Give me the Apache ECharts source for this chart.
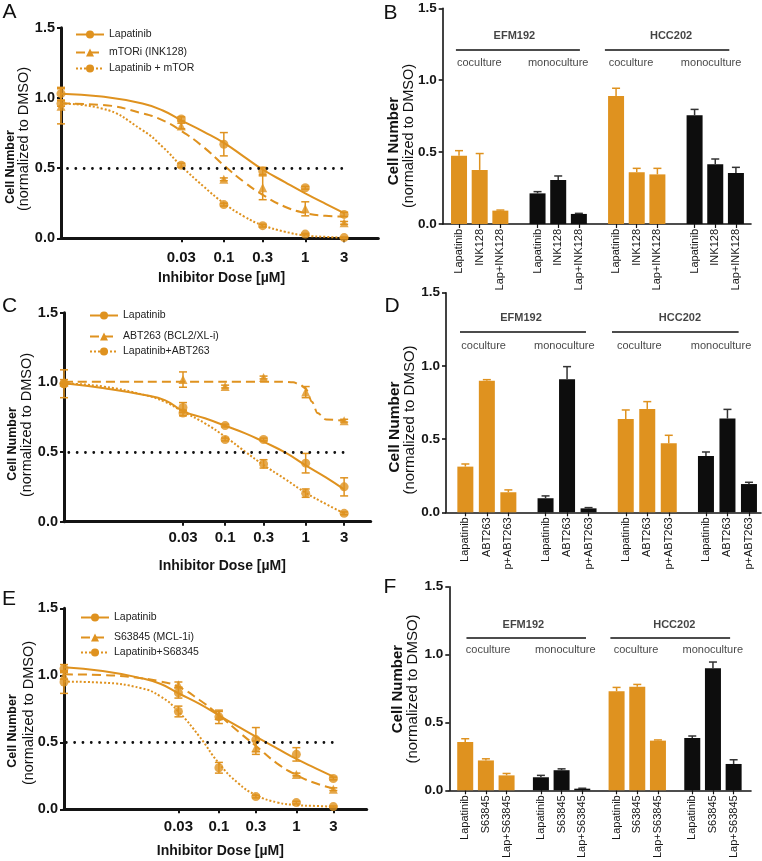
<!DOCTYPE html>
<html><head><meta charset="utf-8">
<script src="https://cdn.jsdelivr.net/npm/echarts@6/dist/echarts.min.js"></script>
<style>html,body{margin:0;padding:0;background:#fff}#c{width:762px;height:861px}</style>
</head><body><div id="c"></div>
<script>
// ================= DATA =================
// Dose–response panels (A, C, E). 0.001 µM = DMSO control, drawn on the y-axis.
const doses = [0.001, 0.03, 0.1, 0.3, 1, 3];
const doseTicks = [0.03, 0.1, 0.3, 1, 3];
const fitDoses = [0.001, 0.00316, 0.01, 0.0178, 0.03, 0.0562, 0.1, 0.178, 0.3, 0.562, 1, 1.78, 3];
const abtFitDoses = [0.001, 0.01, 0.1, 0.5, 0.7, 0.85, 1.0, 1.2, 1.4, 1.8, 3];
const xAxisTitle = 'Inhibitor Dose [µM]';
const yTitle1 = 'Cell Number';
const yTitle2 = '(normalized to DMSO)';
const yTicks = [0, 0.5, 1.0, 1.5];
const halfLine = 0.5;

// Panel A
const aNames = ['Lapatinib', 'mTORi (INK128)', 'Lapatinib + mTOR'];
const aLapMean = [1.03, 0.85, 0.67, 0.48, 0.36, 0.17];
const aLapErr = [0.045, 0.015, 0.083, 0.025, 0.01, 0.015];
const aMtorMean = [0.94, 0.80, 0.42, 0.36, 0.21, 0.11];
const aMtorErr = [0.125, 0.02, 0.01, 0.085, 0.05, 0.01];
const aComboMean = [0.96, 0.52, 0.24, 0.09, 0.03, 0.005];
const aComboErr = [0.02, 0.015, 0.01, 0.01, 0.005, 0.005];
const aLapFit = [1.03, 1.01, 0.96, 0.91, 0.84, 0.76, 0.68, 0.58, 0.49, 0.40, 0.32, 0.245, 0.18];
const aMtorFit = [0.96, 0.95, 0.89, 0.84, 0.765, 0.65, 0.52, 0.40, 0.31, 0.225, 0.18, 0.16, 0.155];
const aComboFit = [0.96, 0.925, 0.77, 0.65, 0.515, 0.37, 0.25, 0.155, 0.093, 0.047, 0.02, 0.01, 0.005];

// Panel C
const cNames = ['Lapatinib', 'ABT263 (BCL2/XL-i)', 'Lapatinib+ABT263'];
const cLapMean = [0.99, 0.82, 0.69, 0.59, 0.42, 0.25];
const cLapErr = [0.10, 0.035, 0.01, 0.01, 0.07, 0.065];
const cAbtMean = [1.00, 1.02, 0.97, 1.035, 0.93, 0.725];
const cAbtErr = [0.02, 0.055, 0.01, 0.01, 0.04, 0.01];
const cComboMean = [0.99, 0.78, 0.59, 0.415, 0.205, 0.06];
const cComboErr = [0.01, 0.02, 0.01, 0.03, 0.03, 0.01];
const cLapFit = [0.993, 0.957, 0.909, 0.873, 0.794, 0.742, 0.689, 0.634, 0.574, 0.495, 0.404, 0.318, 0.232];
const cAbtFit = [1.005, 1.005, 1.005, 1.005, 1.0, 0.985, 0.955, 0.86, 0.78, 0.733, 0.725];
const cComboFit = [0.993, 0.969, 0.909, 0.861, 0.79, 0.706, 0.61, 0.502, 0.407, 0.304, 0.208, 0.127, 0.06];

// Panel E
const eNames = ['Lapatinib', 'S63845 (MCL-1i)', 'Lapatinib+S68345'];
const eLapMean = [1.05, 0.87, 0.69, 0.52, 0.41, 0.23];
const eLapErr = [0.03, 0.04, 0.05, 0.09, 0.05, 0.01];
const eS6Mean = [1.0, 0.93, 0.70, 0.46, 0.26, 0.15];
const eS6Err = [0.03, 0.02, 0.03, 0.05, 0.01, 0.01];
const eComboMean = [0.95, 0.73, 0.31, 0.095, 0.05, 0.02];
const eComboErr = [0.085, 0.04, 0.04, 0.01, 0.01, 0.005];
const eLapFit = [1.06, 1.032, 0.978, 0.935, 0.866, 0.786, 0.701, 0.617, 0.542, 0.455, 0.376, 0.306, 0.244];
const eS6Fit = [1.007, 1.002, 0.978, 0.953, 0.915, 0.816, 0.704, 0.58, 0.473, 0.343, 0.256, 0.194, 0.157];
const eComboFit = [0.953, 0.945, 0.903, 0.841, 0.729, 0.542, 0.343, 0.194, 0.107, 0.052, 0.032, 0.025, 0.02];

// Bar panels (B, D, F): order = EFM192 coculture, EFM192 monoculture, HCC202 coculture, HCC202 monoculture
const cellLines = ['EFM192', 'HCC202'];
const cultures = ['coculture', 'monoculture'];
const bDrugs = ['Lapatinib', 'INK128', 'Lap+INK128'];
const bMeans = [0.475, 0.376, 0.093, 0.213, 0.306, 0.07, 0.89, 0.36, 0.345, 0.756, 0.415, 0.355];
const bErrs = [0.035, 0.114, 0.004, 0.012, 0.028, 0.004, 0.054, 0.027, 0.042, 0.041, 0.037, 0.039];
const dDrugs = ['Lapatinib', 'ABT263', 'p+ABT263'];
const dMeans = [0.312, 0.899, 0.137, 0.096, 0.908, 0.027, 0.637, 0.706, 0.471, 0.385, 0.64, 0.193];
const dErrs = [0.018, 0.007, 0.016, 0.016, 0.087, 0.005, 0.062, 0.05, 0.055, 0.027, 0.063, 0.012];
const fDrugs = ['Lapatinib', 'S63845', 'Lap+S63845'];
const fMeans = [0.356, 0.22, 0.11, 0.096, 0.148, 0.012, 0.73, 0.763, 0.366, 0.385, 0.9, 0.194];
const fErrs = [0.024, 0.012, 0.014, 0.014, 0.01, 0.003, 0.028, 0.017, 0.005, 0.015, 0.045, 0.031];

// ================= STYLE / LAYOUT =================
const FONT = '"Liberation Sans", Arial, Helvetica, sans-serif';
const ORANGE = '#DF921F';
const INK = '#141414';
const BARBLACK = '#0d0d0d';

const curvePanels = [
  { letter: 'A', names: aNames, means: [aLapMean, aMtorMean, aComboMean], errs: [aLapErr, aMtorErr, aComboErr],
    fits: [aLapFit, aMtorFit, aComboFit], fitX: [fitDoses, fitDoses, fitDoses],
    grid: { left: 61, top: 27.7, width: 317.3, height: 210.6 }, xMax: 0.897, ref: [-2.92, 0.51],
    legendLeft: 75, legendCenters: [34, 52, 68], labelMargin: 12, nameGap: 33, nameShift: 2,
    letterPos: [9.5, 12.5], t1: [11, 167, 12.5], t2: [24, 139, 14.5] },
  { letter: 'C', names: cNames, means: [cLapMean, cAbtMean, cComboMean], errs: [cLapErr, cAbtErr, cComboErr],
    fits: [cLapFit, cAbtFit, cComboFit], fitX: [fitDoses, abtFitDoses, fitDoses],
    grid: { left: 64, top: 312.7, width: 306.7, height: 209 }, xMax: 0.807, ref: [-2.94, 0.53],
    legendLeft: 89, legendCenters: [315, 336, 351], labelMargin: 9, nameGap: 37, nameShift: 5,
    letterPos: [9.5, 306.5], t1: [13, 444, 12.5], t2: [27, 425, 14.5] },
  { letter: 'E', names: eNames, means: [eLapMean, eS6Mean, eComboMean], errs: [eLapErr, eS6Err, eComboErr],
    fits: [eLapFit, eS6Fit, eComboFit], fitX: [fitDoses, fitDoses, fitDoses],
    grid: { left: 64, top: 608.3, width: 302.7, height: 201 }, xMax: 0.908, ref: [-2.97, 0.52],
    legendLeft: 80, legendCenters: [617, 637, 652], labelMargin: 10, nameGap: 35, nameShift: 5,
    letterPos: [9, 599.5], t1: [13, 731, 12.5], t2: [29, 713, 14.5] }
];

const barPanels = [
  { letter: 'B', drugs: bDrugs, means: bMeans, errs: bErrs, stride: 3.8, xMin: -0.79, xMax: 14.13,
    grid: { left: 442.7, top: 8.3, width: 308.3, height: 215.7 },
    lineY: 1.215, lines: [[-0.15, 5.85], [7.06, 13.08]], titleY: 1.308, titleX: [2.68, 10.26],
    cultY: 1.122, cultX: [0.98, 4.8, 8.32, 12.2],
    letterPos: [390.5, 13], t1: [393.5, 141, 15], t2: [409, 136, 14.5] },
  { letter: 'D', drugs: dDrugs, means: dMeans, errs: dErrs, stride: 3.73, xMin: -0.9, xMax: 13.75,
    grid: { left: 446, top: 292.7, width: 315, height: 219.6 },
    lineY: 1.234, lines: [[-0.25, 5.61], [6.82, 12.71]], titleY: 1.325, titleX: [2.59, 9.98],
    cultY: 1.138, cultX: [0.85, 4.6, 8.09, 11.89],
    letterPos: [392, 306], t1: [395, 427, 15.5], t2: [410, 420, 15] },
  { letter: 'F', drugs: fDrugs, means: fMeans, errs: fErrs, stride: 3.66, xMin: -0.77, xMax: 13.82,
    grid: { left: 449.3, top: 586.7, width: 301.7, height: 209 },
    lineY: 1.124, lines: [[0.06, 5.84], [7.02, 12.81]], titleY: 1.218, titleX: [2.81, 10.11],
    cultY: 1.031, cultX: [1.11, 4.84, 8.26, 11.97],
    letterPos: [390, 587.5], t1: [398, 689, 15], t2: [413, 689, 15] }
];

const SHAPES = ['circle', 'triangle', 'circle'];
const DASHES = ['solid', [9, 5], [2, 2]];

// ================= BUILD =================
const grids = [], xAxes = [], yAxes = [], series = [], legends = [], graphics = [];

function errRender(both, capW, colors) {
  return function (params, api) {
    const x = api.value(0), m = api.value(1), e = api.value(2);
    const color = colors ? colors[api.value(3)] : ORANGE;
    const top = api.coord([x, m + e]);
    const bot = api.coord([x, both ? m - e : m]);
    const st = { stroke: color, lineWidth: 1.5 };
    const ch = [
      { type: 'line', shape: { x1: top[0], y1: top[1], x2: bot[0], y2: bot[1] }, style: st },
      { type: 'line', shape: { x1: top[0] - capW / 2, y1: top[1], x2: top[0] + capW / 2, y2: top[1] }, style: st }
    ];
    if (both) ch.push({ type: 'line', shape: { x1: bot[0] - capW / 2, y1: bot[1], x2: bot[0] + capW / 2, y2: bot[1] }, style: st });
    return { type: 'group', children: ch };
  };
}

function yAxisCommon(i, lw, fs) {
  return {
    gridIndex: i, type: 'value', min: yTicks[0], max: yTicks[yTicks.length - 1], interval: 0.5,
    axisLine: { show: true, onZero: false, lineStyle: { color: INK, width: lw } },
    axisTick: { show: true, length: 4, lineStyle: { color: INK, width: Math.min(lw, 2) } },
    axisLabel: { formatter: v => v.toFixed(1), fontFamily: FONT, fontWeight: 'bold', fontSize: fs, color: INK, margin: 6 },
    splitLine: { show: false }
  };
}

function addTitles(P) {
  graphics.push({ type: 'text', x: P.letterPos[0], y: P.letterPos[1],
    style: { text: P.letter, fontFamily: FONT, fontSize: 21, fill: '#111', align: 'center', verticalAlign: 'middle' } });
  graphics.push({ type: 'text', x: P.t1[0], y: P.t1[1], rotation: Math.PI / 2,
    style: { text: yTitle1, fontFamily: FONT, fontWeight: 'bold', fontSize: P.t1[2], fill: '#111', align: 'center', verticalAlign: 'middle' } });
  graphics.push({ type: 'text', x: P.t2[0], y: P.t2[1], rotation: Math.PI / 2,
    style: { text: yTitle2, fontFamily: FONT, fontSize: P.t2[2], fill: '#111', align: 'center', verticalAlign: 'middle' } });
}

const tickLogs = doseTicks.map(d => Math.log10(d));
function doseLabel(v) {
  for (const d of doseTicks) if (Math.abs(Math.log10(d) - v) < 1e-6) return String(d);
  return '';
}

curvePanels.forEach((P) => {
  const i = grids.length;
  grids.push(P.grid);
  yAxes.push(yAxisCommon(i, 3, 14.5));
  xAxes.push({
    gridIndex: i, type: 'value', min: Math.log10(doses[0]), max: P.xMax,
    axisLine: { show: true, onZero: false, lineStyle: { color: INK, width: 3 } },
    axisTick: { show: true, customValues: tickLogs, length: 4, lineStyle: { color: INK, width: 2 } },
    axisLabel: { customValues: tickLogs, formatter: doseLabel, fontFamily: FONT, fontWeight: 'bold', fontSize: 15, color: INK, margin: P.labelMargin },
    splitLine: { show: false },
    name: xAxisTitle, nameLocation: 'middle', nameGap: P.nameGap,
    nameTextStyle: { fontFamily: FONT, fontWeight: 'bold', fontSize: 14, color: INK, padding: [0, 0, 0, 2 * P.nameShift] }
  });
  for (let s = 0; s < 3; s++) {
    const fitX = P.fitX[s];
    const isStep = fitX === abtFitDoses;
    const line = {
      type: 'line', name: P.names[s], xAxisIndex: i, yAxisIndex: i,
      data: fitX.map((d, k) => [Math.log10(d), P.fits[s][k]]),
      smooth: isStep ? 0.3 : 0.5, symbol: SHAPES[s], symbolSize: 9, showSymbol: false,
      lineStyle: { color: ORANGE, width: 2, type: DASHES[s] }, itemStyle: { color: ORANGE }, z: 2, silent: true
    };
    if (isStep) line.smoothMonotone = 'x';
    if (s === 0) {
      line.markLine = {
        silent: true, symbol: ['none', 'none'], label: { show: false },
        lineStyle: { color: '#111', width: 2.8, type: [0.01, 8.3], cap: 'round' },
        data: [[{ coord: [P.ref[0], halfLine] }, { coord: [P.ref[1], halfLine] }]]
      };
    }
    series.push(line);
    series.push({
      type: 'custom', name: P.letter + ' ' + P.names[s] + ' SEM', xAxisIndex: i, yAxisIndex: i,
      renderItem: errRender(true, 8), clip: false, z: 3, silent: true,
      data: doses.map((d, k) => [Math.log10(d), P.means[s][k], P.errs[s][k]])
    });
    series.push({
      type: 'scatter', name: P.letter + ' ' + P.names[s] + ' mean', xAxisIndex: i, yAxisIndex: i,
      data: doses.map((d, k) => [Math.log10(d), P.means[s][k]]),
      symbol: SHAPES[s], symbolSize: 9, itemStyle: { color: ORANGE }, clip: false, z: 4, silent: true
    });
    legends.push({
      left: P.legendLeft, top: P.legendCenters[s] - 5, orient: 'vertical', selectedMode: false,
      itemWidth: 28, itemHeight: 10, itemGap: 0, padding: 0, data: [P.names[s]],
      textStyle: { fontFamily: FONT, fontSize: 10.5, color: '#222' }
    });
  }
  addTitles(P);
});

barPanels.forEach((P) => {
  const i = grids.length;
  grids.push(P.grid);
  yAxes.push(yAxisCommon(i, 1.6, 13.5));
  const pos = [], names = [], grp = [];
  for (let g = 0; g < 4; g++) for (let k = 0; k < 3; k++) { pos.push(g * P.stride + k); names.push(P.drugs[k]); grp.push(g % 2); }
  const labelAt = v => { let best = 0; pos.forEach((p, j) => { if (Math.abs(p - v) < Math.abs(pos[best] - v)) best = j; }); return names[best]; };
  xAxes.push({
    gridIndex: i, type: 'value', min: P.xMin, max: P.xMax,
    axisLine: { show: true, onZero: false, lineStyle: { color: INK, width: 1.6 } },
    axisTick: { show: true, customValues: pos, length: 4, lineStyle: { color: INK, width: 1.2 } },
    axisLabel: { customValues: pos, rotate: 90, formatter: labelAt, fontFamily: FONT, fontSize: 11, color: INK, margin: 5 },
    splitLine: { show: false }
  });
  const barColors = [ORANGE, BARBLACK];
  series.push({
    type: 'bar', name: P.letter + ' bars', xAxisIndex: i, yAxisIndex: i, barWidth: 16, silent: true, z: 2,
    data: pos.map((x, j) => ({ value: [x, P.means[j]], itemStyle: { color: barColors[grp[j]] } })),
    markLine: {
      silent: true, symbol: ['none', 'none'], label: { show: false },
      lineStyle: { color: '#111', width: 1.5, type: 'solid' },
      data: P.lines.map(l => [{ coord: [l[0], P.lineY] }, { coord: [l[1], P.lineY] }])
    }
  });
  series.push({
    type: 'custom', name: P.letter + ' SEM', xAxisIndex: i, yAxisIndex: i, silent: true, z: 3, clip: false,
    renderItem: errRender(false, 8, [ORANGE, '#333']),
    data: pos.map((x, j) => [x, P.means[j], P.errs[j], grp[j]])
  });
  series.push({
    type: 'scatter', name: P.letter + ' cell lines', xAxisIndex: i, yAxisIndex: i, silent: true,
    symbolSize: 1, itemStyle: { color: 'rgba(0,0,0,0)' },
    label: { show: true, position: 'inside', formatter: '{b}', fontFamily: FONT, fontWeight: 'bold', fontSize: 11, color: INK },
    data: cellLines.map((n, j) => ({ name: n, value: [P.titleX[j], P.titleY] }))
  });
  series.push({
    type: 'scatter', name: P.letter + ' cultures', xAxisIndex: i, yAxisIndex: i, silent: true,
    symbolSize: 1, itemStyle: { color: 'rgba(0,0,0,0)' },
    label: { show: true, position: 'inside', formatter: '{b}', fontFamily: FONT, fontSize: 11, color: INK },
    data: P.cultX.map((x, j) => ({ name: cultures[j % 2], value: [x, P.cultY] }))
  });
  addTitles(P);
});

const chart = echarts.init(document.getElementById('c'), null, { renderer: 'canvas' });
chart.setOption({
  animation: false,
  backgroundColor: '#fff',
  textStyle: { fontFamily: FONT },
  grid: grids, xAxis: xAxes, yAxis: yAxes, series: series, legend: legends, graphic: graphics
});
</script></body></html>
